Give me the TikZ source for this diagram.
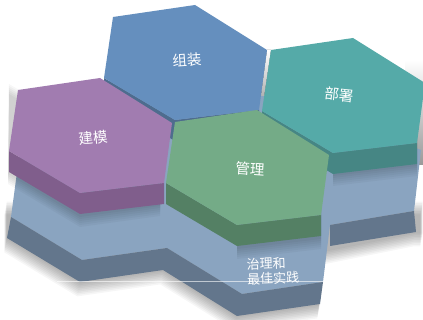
\documentclass[tikz,border=0pt]{standalone}
\usepackage{fontspec}
\newfontfamily\cjk{Noto Sans CJK SC}
\usetikzlibrary{positioning}

\definecolor{bluetop}{RGB}{101,143,190}
\definecolor{blueside}{RGB}{78,108,142}
\definecolor{purptop}{RGB}{161,124,176}
\definecolor{purpside}{RGB}{128,94,140}
\definecolor{greentop}{RGB}{116,171,135}
\definecolor{greenside}{RGB}{84,128,100}
\definecolor{tealtop}{RGB}{85,170,168}
\definecolor{tealside}{RGB}{70,134,132}
\definecolor{basetop}{RGB}{138,164,192}
\definecolor{baseside}{RGB}{99,118,140}

% one tile: top-left corner, top colour, side colour
\newcommand{\hextile}[3]{%
\begin{scope}[shift={#1}]
\fill[#3] (-9,61) -- (62,103) -- (146,93) -- (146,114) -- (62,124) -- (-9,82) -- cycle;
\fill[#2] (0,0) -- (82,-12) -- (154,33) -- (146,93) -- (62,103) -- (-9,61) -- cycle;
\end{scope}}

\begin{document}
\begin{tikzpicture}[x=1pt,y=-1pt,
label/.style={text=white,font=\cjk\fontsize{14.5}{16}\selectfont,inner sep=1pt},
gap/.style={top color=white,bottom color=black!40}]
\useasboundingbox (0,0) rectangle (423,320);
\fill[white] (0,0) rectangle (423,320);

% soft shadow under the base
\foreach \i in {1,...,9}
\fill[black,opacity=0.035,shift={(-0.3*\i,1.6*\i)}]
(7,200) -- (7,238) -- (80,282) -- (163,270) -- (237,316) -- (320,304)
-- (326,250) -- (416,232) -- (423,232) -- (423,200) -- cycle;

% gaps between the tiles
\fill[gap] (405,60) rectangle (423,165);
\fill[gap] (267,50) -- (271,50) -- (262,111) -- (259,110) -- cycle;

% base plate
\fill[basetop] (20,150) -- (11,217) -- (82,260) -- (167,248) -- (242,294)
-- (323,282) -- (330,225) -- (414,211) -- (421,150) -- (300,100) -- (110,80) -- cycle;
\fill[baseside] (11,217) -- (82,260) -- (167,248) -- (242,294) -- (323,282)
-- (320,304) -- (237,316) -- (163,270) -- (80,282) -- (7,238) -- cycle;
\fill[baseside] (330,225) -- (414,211) -- (416,232) -- (330,246) -- cycle;

% shadows of the tiles on the base
\foreach \i in {1,...,6}
\fill[black,opacity=0.03,shift={(0,2*\i)}]
(9,82) -- (80,124) -- (164,114) -- (160,204) -- (80,215) -- (8,172) -- cycle;
\foreach \i in {1,...,6}
\fill[black,opacity=0.03,shift={(0,2*\i)}]
(237,146) -- (321,136) -- (321,237) -- (237,247) -- cycle;
\foreach \i in {1,...,6}
\fill[black,opacity=0.03,shift={(0,2*\i)}]
(333,100) -- (417,90) -- (417,164) -- (333,174) -- cycle;

% tiles, back to front
\hextile{(113,17)}{bluetop}{blueside}
\hextile{(271,50)}{tealtop}{tealside}
\hextile{(18,90)}{purptop}{purpside}
\hextile{(175,122)}{greentop}{greenside}

% labels
\node[label,rotate=4] (asm) at (187,60) {组装};
\node[label,rotate=6] (mdl) at (93,138) {建模};
\node[label,rotate=-6] (dep) at (339,95) {部署};
\node[label,rotate=-4] (mgt) at (250,169) {管理};
\node[label,rotate=2,align=left,font=\cjk\fontsize{13}{15}\selectfont]
(gov) at (273,271) {治理和\\最佳实践};

\draw[white,opacity=0.6,line width=0.6pt] (57,281) -- (340,281);
\end{tikzpicture}
\end{document}
